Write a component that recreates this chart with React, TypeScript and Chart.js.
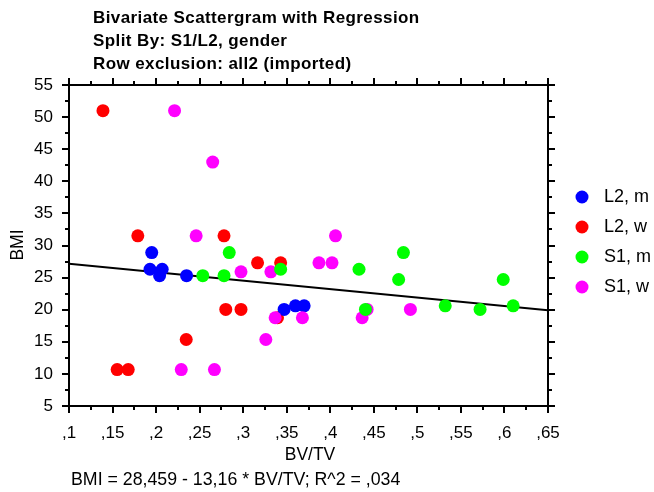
import React, { useEffect, useRef } from "react";
import { Chart, registerables } from "chart.js";

Chart.register(...registerables);

const titleLines = [
  "Bivariate Scattergram with Regression",
  "Split By: S1/L2, gender",
  "Row exclusion: all2 (imported)",
];
const xAxisTitle = "BV/TV";
const yAxisTitle = "BMI";
const equationText = "BMI = 28,459 - 13,16 * BV/TV; R^2 = ,034";

const xTickValues = [0.1, 0.15, 0.2, 0.25, 0.3, 0.35, 0.4, 0.45, 0.5, 0.55, 0.6, 0.65];
const xTickLabels = [",1", ",15", ",2", ",25", ",3", ",35", ",4", ",45", ",5", ",55", ",6", ",65"];
const yTickValues = [5, 10, 15, 20, 25, 30, 35, 40, 45, 50, 55];
const yTickLabels = ["5", "10", "15", "20", "25", "30", "35", "40", "45", "50", "55"];

const seriesNames = ["L2, m", "L2, w", "S1, m", "S1, w"];
const seriesColors = ["#0000ff", "#ff0000", "#00ff00", "#ff00ff"];

const l2mX = [0.195, 0.193, 0.207, 0.204, 0.235, 0.347, 0.36, 0.37];
const l2mY = [28.9, 26.3, 26.3, 25.3, 25.3, 20.05, 20.6, 20.6];

const l2wX = [0.139, 0.179, 0.278, 0.3165, 0.343, 0.28, 0.2975, 0.3394, 0.2346, 0.1553, 0.168];
const l2wY = [51, 31.5, 31.5, 27.3, 27.3, 20.05, 20.05, 18.75, 15.36, 10.67, 10.67];

const s1mX = [0.284, 0.343, 0.433, 0.2536, 0.278, 0.484, 0.4785, 0.5986, 0.4404, 0.532, 0.572, 0.61];
const s1mY = [28.9, 26.3, 26.3, 25.3, 25.3, 28.9, 24.7, 24.7, 20.05, 20.6, 20.05, 20.6];

const s1wX = [0.2212, 0.265, 0.246, 0.406, 0.387, 0.402, 0.2975, 0.3318, 0.368, 0.4423, 0.4366, 0.492, 0.3367, 0.326, 0.2289, 0.267];
const s1wY = [51, 43, 31.5, 31.5, 27.3, 27.3, 25.9, 25.9, 18.75, 20.05, 18.75, 20.05, 18.75, 15.36, 10.67, 10.67];

const regIntercept = 28.459;
const regSlope = -13.16;
const regX = [0.1, 0.65];

const FONT = '"Liberation Sans", Arial, sans-serif';

const zip = (xs: number[], ys: number[]) => xs.map((x, i) => ({ x, y: ys[i] }));

const framePlugin = {
  id: "frameAndText",
  afterDraw(chart: any) {
    const ctx = chart.ctx as CanvasRenderingContext2D;
    const { left, right, top, bottom } = chart.chartArea;
    const xs = chart.scales.x;
    const ys = chart.scales.y;
    ctx.save();
    ctx.strokeStyle = "#000";
    ctx.lineWidth = 2;
    ctx.strokeRect(left, top, right - left, bottom - top);
    const major = 7;
    const minor = 4;
    ctx.beginPath();
    xTickValues.forEach((v, i) => {
      const px = Math.round(xs.getPixelForValue(v));
      ctx.moveTo(px, bottom); ctx.lineTo(px, bottom + major);
      ctx.moveTo(px, top); ctx.lineTo(px, top - major);
      if (i < xTickValues.length - 1) {
        const m = Math.round(xs.getPixelForValue((v + xTickValues[i + 1]) / 2));
        ctx.moveTo(m, bottom); ctx.lineTo(m, bottom + minor);
        ctx.moveTo(m, top); ctx.lineTo(m, top - minor);
      }
    });
    yTickValues.forEach((v, i) => {
      const py = Math.round(ys.getPixelForValue(v));
      ctx.moveTo(left, py); ctx.lineTo(left - major, py);
      ctx.moveTo(right, py); ctx.lineTo(right + major, py);
      if (i < yTickValues.length - 1) {
        const m = Math.round(ys.getPixelForValue((v + yTickValues[i + 1]) / 2));
        ctx.moveTo(left, m); ctx.lineTo(left - minor, m);
        ctx.moveTo(right, m); ctx.lineTo(right + minor, m);
      }
    });
    ctx.stroke();

    ctx.fillStyle = "#000";
    ctx.textBaseline = "middle";
    ctx.textAlign = "left";
    ctx.font = `bold 17px ${FONT}`;
    (ctx as any).letterSpacing = "0.4px";
    titleLines.forEach((t, i) => ctx.fillText(t, 93, 18 + i * 23));
    (ctx as any).letterSpacing = "0px";

    ctx.font = `17.5px ${FONT}`;
    ctx.textAlign = "center";
    ctx.fillText(xAxisTitle, 310, 455.5);
    ctx.save();
    ctx.translate(18, 245);
    ctx.rotate(-Math.PI / 2);
    ctx.fillText(yAxisTitle, 0, 0);
    ctx.restore();

    ctx.font = `17.75px ${FONT}`;
    ctx.textAlign = "left";
    ctx.fillText(equationText, 71, 480);

    ctx.font = `18px ${FONT}`;
    seriesNames.forEach((n, i) => {
      const y = 197 + i * 30;
      ctx.beginPath();
      ctx.fillStyle = seriesColors[i];
      ctx.arc(582, y, 6.5, 0, Math.PI * 2);
      ctx.fill();
      ctx.fillStyle = "#000";
      ctx.fillText(n, 604, y);
    });
    ctx.restore();
  },
};

export default function App() {
  const ref = useRef<HTMLCanvasElement | null>(null);
  useEffect(() => {
    if (!ref.current) return;
    const mk = (i: number, xs: number[], ys: number[], order: number) => ({
      label: seriesNames[i],
      data: zip(xs, ys),
      backgroundColor: seriesColors[i],
      borderWidth: 0,
      pointRadius: 6.5,
      pointHoverRadius: 6.5,
      order,
    });
    const chart = new Chart(ref.current, {
      type: "scatter",
      data: {
        datasets: [
          mk(0, l2mX, l2mY, 3),
          mk(1, l2wX, l2wY, 4),
          mk(2, s1mX, s1mY, 1),
          mk(3, s1wX, s1wY, 2),
          {
            label: "Regression",
            data: regX.map((x) => ({ x, y: regIntercept + regSlope * x })),
            showLine: true,
            borderColor: "#000",
            borderWidth: 2,
            pointRadius: 0,
            fill: false,
            order: 5,
          } as any,
        ],
      },
      options: {
        responsive: false,
        animation: false,
        events: [],
        layout: { padding: { left: 0, right: 106, top: 85, bottom: 0 } },
        plugins: { legend: { display: false }, tooltip: { enabled: false }, title: { display: false } },
        scales: {
          x: {
            type: "linear",
            min: 0.1,
            max: 0.65,
            afterBuildTicks: (s: any) => { s.ticks = xTickValues.map((v) => ({ value: v })); },
            afterFit: (s: any) => { s.height = 86; },
            ticks: {
              autoSkip: false,
              maxRotation: 0,
              padding: 17,
              color: "#000",
              font: { family: FONT, size: 17 },
              callback: (_v: any, i: number) => xTickLabels[i],
            },
            grid: { display: false, drawTicks: false },
            border: { display: false },
          },
          y: {
            type: "linear",
            min: 5,
            max: 55,
            afterBuildTicks: (s: any) => { s.ticks = yTickValues.map((v) => ({ value: v })); },
            afterFit: (s: any) => { s.width = 69; },
            ticks: {
              autoSkip: false,
              padding: 16,
              color: "#000",
              font: { family: FONT, size: 17 },
              callback: (_v: any, i: number) => yTickLabels[i],
            },
            grid: { display: false, drawTicks: false },
            border: { display: false },
          },
        },
      },
      plugins: [framePlugin],
    } as any);
    return () => chart.destroy();
  }, []);
  return (
    <canvas
      ref={ref}
      width={654}
      height={492}
      style={{ position: "fixed", left: 0, top: 0, width: 654, height: 492, background: "#fff" }}
    />
  );
}
